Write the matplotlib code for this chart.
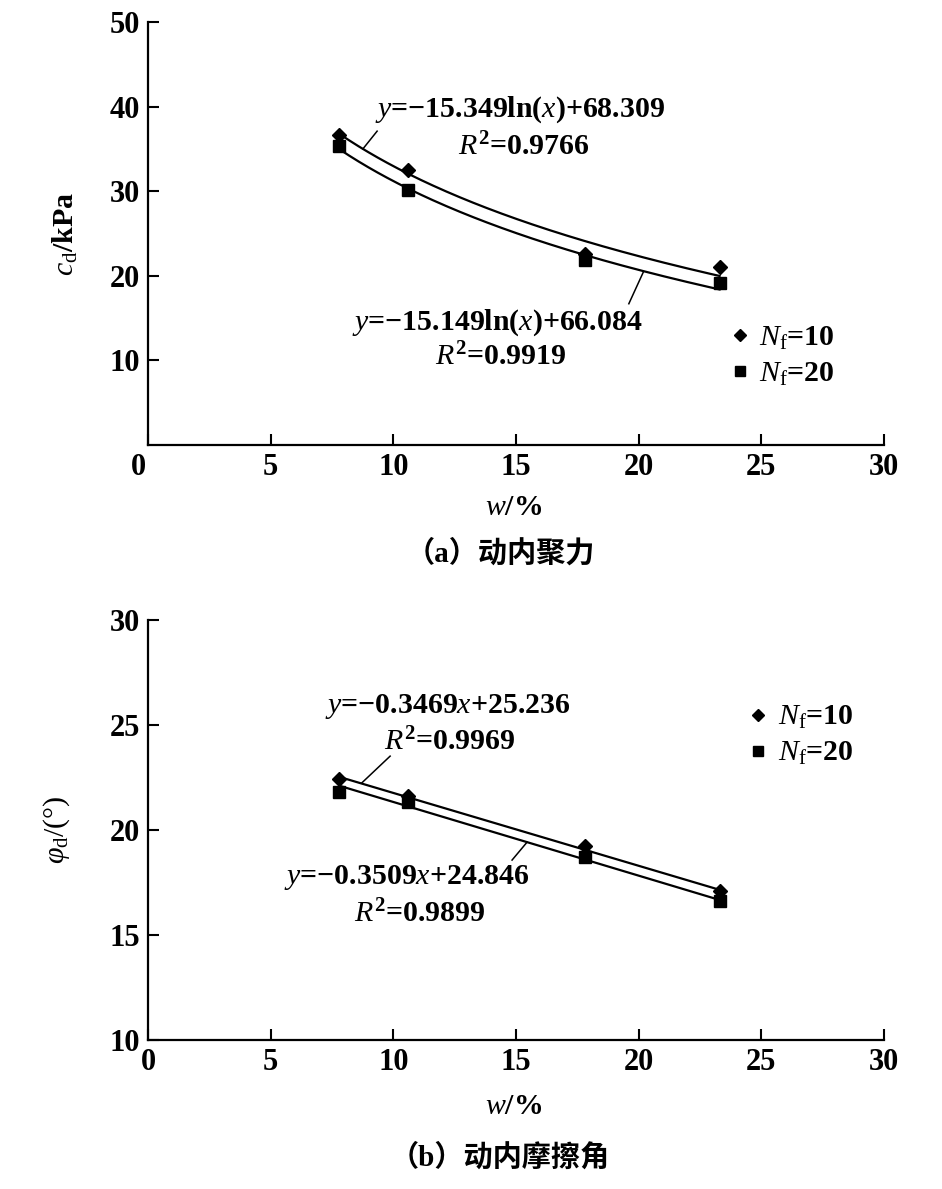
import numpy as np
import matplotlib
matplotlib.use("Agg")
import matplotlib.pyplot as plt
from matplotlib.transforms import ScaledTranslation

plt.rcParams['font.family'] = ['Liberation Serif', 'Noto Sans CJK SC']
plt.rcParams['font.weight'] = 'bold'
plt.rcParams['mathtext.fontset'] = 'custom'
plt.rcParams['mathtext.rm'] = 'Liberation Serif:bold'
plt.rcParams['mathtext.bf'] = 'Liberation Serif:bold'
plt.rcParams['mathtext.it'] = 'Liberation Serif:italic:normal'
plt.rcParams['mathtext.sf'] = 'Liberation Serif:normal'

# moisture content w (%)
w = [7.8, 10.6, 17.8, 23.3]

# (a) dynamic cohesion c_d (kPa)
cd_n10 = [36.6, 32.5, 22.6, 21.0]
cd_n20 = [35.4, 30.1, 21.9, 19.1]
# log fits y = a*ln(x) + b
cd_fit_n10 = (-15.349, 68.309)
cd_fit_n20 = (-15.149, 66.084)

# (b) dynamic friction angle phi_d (deg)
phi_n10 = [22.45, 21.6, 19.25, 17.1]
phi_n20 = [21.8, 21.35, 18.7, 16.6]
# linear fits y = a*x + b
phi_fit_n10 = (-0.3469, 25.236)
phi_fit_n20 = (-0.3509, 24.846)

legend_labels = [r'$N_{\mathsf{f}}$=10', r'$N_{\mathsf{f}}$=20']

FS = 21.5
TS = 22


def style_axes(ax, ylim, yticks):
    ax.set_xlim(0, 30)
    ax.set_ylim(*ylim)
    ax.set_xticks([0, 5, 10, 15, 20, 25, 30])
    ax.set_yticks(yticks)
    for s in ['top', 'right']:
        ax.spines[s].set_visible(False)
    for s in ['left', 'bottom']:
        ax.spines[s].set_linewidth(1.6)
    ax.tick_params(direction='in', length=8, width=1.5, labelsize=TS, pad=6)
    for lab in ax.get_xticklabels() + ax.get_yticklabels():
        lab.set_fontweight('bold')


def draw_points(ax, y10, y20):
    ax.plot(w, y10, linestyle='none', marker='D', ms=7, color='black', label=legend_labels[0])
    ax.plot(w, y20, linestyle='none', marker='s', ms=8, color='black', label=legend_labels[1])


fig = plt.figure(figsize=(9.42, 11.89), dpi=100)
ax1 = fig.add_axes([0.1571, 0.6257, 0.7813, 0.3558])
ax2 = fig.add_axes([0.1571, 0.1253, 0.7813, 0.3532])

# ---- (a) ----
xs = np.linspace(min(w), max(w), 200)
for a, b in [cd_fit_n10, cd_fit_n20]:
    ax1.plot(xs, a * np.log(xs) + b, color='black', lw=1.6)
draw_points(ax1, cd_n10, cd_n20)
style_axes(ax1, (0, 50), [10, 20, 30, 40, 50])
# origin label sits a little left in the source figure
t0 = ax1.xaxis.get_major_ticks()[0].label1
t0.set_transform(t0.get_transform() + ScaledTranslation(-10 / 100, 0, fig.dpi_scale_trans))

ax1.text(15.17, 39.6, r'$y$=−15.349ln($x$)+68.309', ha='center', va='center', fontsize=FS)
ax1.text(15.3, 35.2, r'$R^2$=0.9766', ha='center', va='center', fontsize=FS)
ax1.text(14.23, 14.5, r'$y$=−15.149ln($x$)+66.084', ha='center', va='center', fontsize=FS)
ax1.text(14.4, 10.4, r'$R^2$=0.9919', ha='center', va='center', fontsize=FS)
ax1.plot([8.76, 9.34], [35.0, 37.1], color='black', lw=1.1)
ax1.plot([20.2, 19.6], [20.5, 16.7], color='black', lw=1.1)

ax1.legend(loc='upper left', bbox_to_anchor=(0.79, 0.285), frameon=False, fontsize=FS,
           handlelength=0.7, handletextpad=0.3, labelspacing=0.3, borderpad=0, borderaxespad=0,
           markerscale=0.85)

ax1.set_ylabel(r'$c_{\mathsf{d}}$/kPa', fontsize=FS, fontweight='bold')
ax1.yaxis.set_label_coords(-0.092, 0.5)
fig.text(514 / 942, 1 - 508 / 1189, r'$w$/%', ha='center', va='center', fontsize=FS)
fig.text(500 / 942, 1 - 553 / 1189, '（a）动内聚力', ha='center', va='center', fontsize=21,
         fontweight='bold')

# ---- (b) ----
for a, b in [phi_fit_n10, phi_fit_n20]:
    ax2.plot(xs, a * xs + b, color='black', lw=1.6)
draw_points(ax2, phi_n10, phi_n20)
style_axes(ax2, (10, 30), [10, 15, 20, 25, 30])

ax2.text(12.23, 25.9, r'$y$=−0.3469$x$+25.236', ha='center', va='center', fontsize=FS)
ax2.text(12.31, 24.19, r'$R^2$=0.9969', ha='center', va='center', fontsize=FS)
ax2.text(10.56, 17.76, r'$y$=−0.3509$x$+24.846', ha='center', va='center', fontsize=FS)
ax2.text(11.09, 16.0, r'$R^2$=0.9899', ha='center', va='center', fontsize=FS)
ax2.plot([8.72, 9.87], [22.25, 23.52], color='black', lw=1.1)
ax2.plot([15.45, 14.84], [19.42, 18.57], color='black', lw=1.1)

ax2.legend(loc='upper left', bbox_to_anchor=(0.815, 0.80), frameon=False, fontsize=FS,
           handlelength=0.7, handletextpad=0.3, labelspacing=0.3, borderpad=0, borderaxespad=0,
           markerscale=0.85)

ax2.set_ylabel(r'$\varphi_{\mathsf{d}}$/(°)', fontsize=FS, fontweight='normal')
ax2.yaxis.set_label_coords(-0.103, 0.5)
fig.text(514 / 942, 1 - 1107 / 1189, r'$w$/%', ha='center', va='center', fontsize=FS)
fig.text(500 / 942, 1 - 1157 / 1189, '（b）动内摩擦角', ha='center', va='center', fontsize=21,
         fontweight='bold')

fig.savefig('out.png', dpi=100)
